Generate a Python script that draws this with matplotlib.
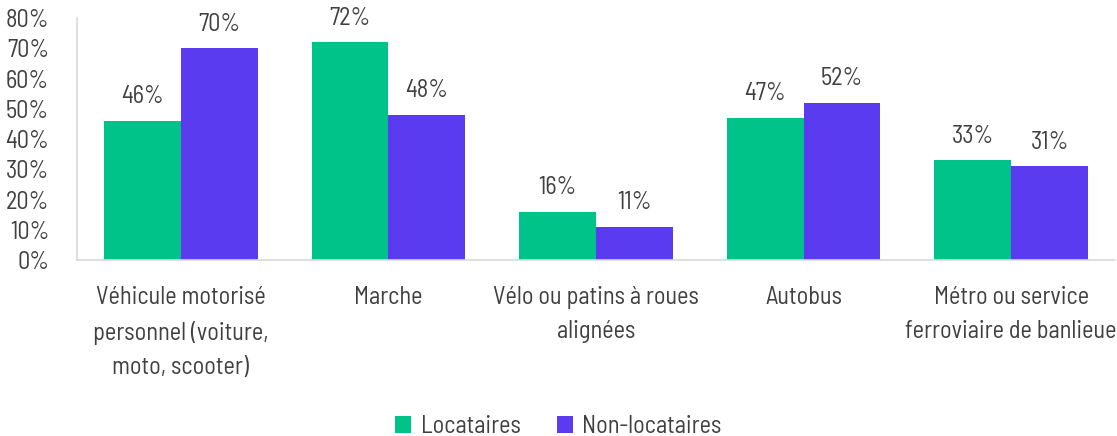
import matplotlib.pyplot as plt
import numpy as np

categories = ["Véhicule motorisé\npersonnel (voiture,\nmoto, scooter)", "Marche",
              "Vélo ou patins à roues\nalignées", "Autobus",
              "Métro ou service\nferroviaire de banlieue"]
locataires = [46, 72, 16, 47, 33]
non_locataires = [70, 48, 11, 52, 31]

plt.rcParams['font.family'] = ['Barlow Semi Condensed', 'Barlow Condensed', 'DejaVu Sans']
text_color = '#404040'
fs = 17.5

fig = plt.figure(figsize=(11.17, 4.36), dpi=100)
ax = fig.add_axes([77 / 1117, 1 - 260 / 436, (1115 - 77) / 1117, 242 / 436])

x = np.arange(len(categories))
w = 0.37
b1 = ax.bar(x - w / 2, locataires, w, color='#00C389', label='Locataires')
b2 = ax.bar(x + w / 2, non_locataires, w, color='#5B3BF0', label='Non-locataires')

# value labels above each bar
for bars, vals in ((b1, locataires), (b2, non_locataires)):
    for bar, v in zip(bars, vals):
        ax.annotate(f"{v}%", (bar.get_x() + bar.get_width() / 2, v),
                    xytext=(0, 9), textcoords='offset points', ha='center', va='bottom',
                    fontsize=fs, color=text_color)

ax.set_xlim(-0.5, len(categories) - 0.5)
ax.set_ylim(0, 80)
ax.set_yticks(range(0, 81, 10))
ax.set_yticklabels([f"{t}%" for t in range(0, 81, 10)])
ax.set_xticks(x)
ax.set_xticklabels(categories, linespacing=1.6)
ax.tick_params(length=0, labelsize=fs, colors=text_color)
ax.tick_params(axis='y', pad=20)
ax.tick_params(axis='x', pad=19)
for s in ('top', 'right'):
    ax.spines[s].set_visible(False)
for s in ('left', 'bottom'):
    ax.spines[s].set_color('#d9d9d9')
    ax.spines[s].set_linewidth(1.2)

fig.legend(loc='lower center', bbox_to_anchor=(0.5, -0.055), ncol=2, frameon=False,
           fontsize=fs, labelcolor=text_color, handlelength=0.65, handleheight=0.65,
           columnspacing=1.5, handletextpad=0.4)

fig.savefig('out.png', dpi=100)
